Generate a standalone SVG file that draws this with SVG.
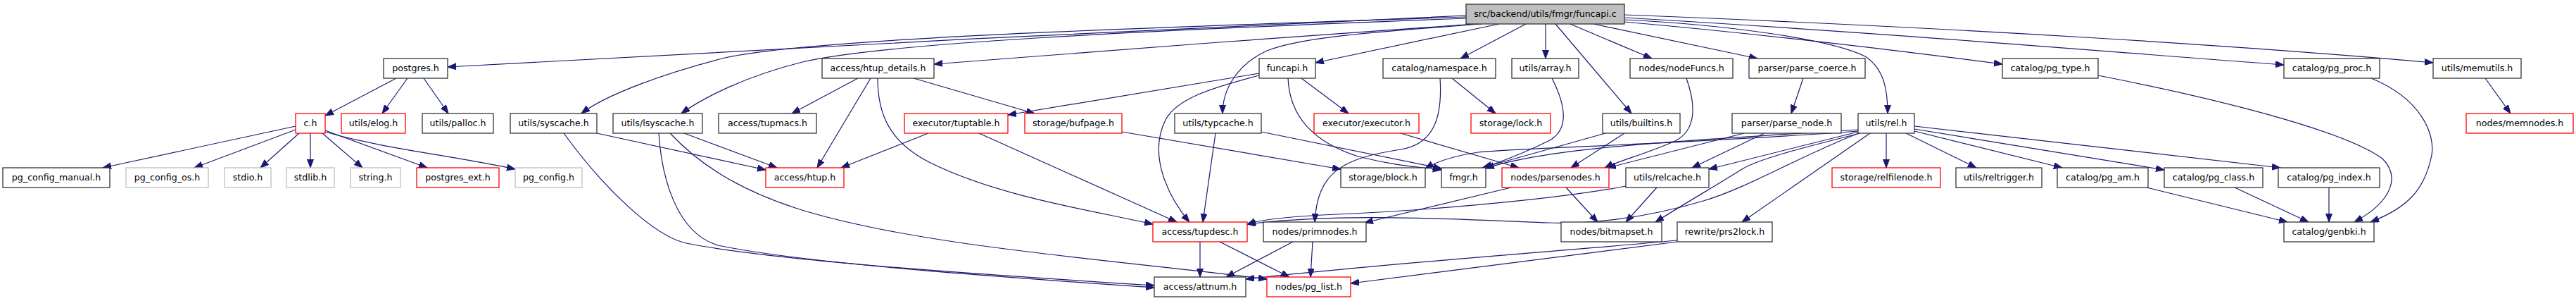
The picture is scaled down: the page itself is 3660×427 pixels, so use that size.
<svg xmlns="http://www.w3.org/2000/svg" width="3660" height="427" viewBox="0 0 3660 427">
<style>
rect{stroke-width:1.3}
.b{fill:#fff;stroke:#333}
.r{fill:#fff;stroke:#f00}
.g{fill:#fff;stroke:#bfbfbf}
.m{fill:#bfbfbf;stroke:#333}
text{font-family:"DejaVu Sans",sans-serif;font-size:12.6px;text-anchor:middle;fill:#000}
#edges path{fill:none;stroke:#191970;stroke-width:1.2;marker-end:url(#a)}
</style>
<defs>
<marker id="a" markerUnits="userSpaceOnUse" markerWidth="13" markerHeight="10" refX="12" refY="4.5" orient="auto"><path d="M0,0L12,4.5L0,9z" fill="#191970" stroke="#191970" stroke-width="1"/></marker>
</defs>
<rect width="3660" height="427" fill="#fff" stroke="none"/>
<g id="edges">
<path d="M2083,22 C1700,38 1000,74 636,95"/>
<path d="M2083,24 C1600,40 1150,55 1030,82 C940,105 860,135 826,161"/>
<path d="M2083,26 C1600,44 1250,62 1140,88 C1060,108 1000,138 968,161"/>
<path d="M2095,34 C1900,48 1500,76 1327,91"/>
<path d="M2105,34 C1950,46 1850,52 1800,72 C1760,90 1737,125 1737,161"/>
<path d="M2130,34 L1869,89"/>
<path d="M2168,34 L2075,83"/>
<path d="M2196,34 L2196,83"/>
<path d="M2210,34 L2318,161"/>
<path d="M2231,34 L2347,83"/>
<path d="M2264,34 L2497,83"/>
<path d="M2308,28 C2450,35 2600,55 2650,80 C2678,98 2682,130 2682,161"/>
<path d="M2308,31 C2500,48 2700,72 2845,91"/>
<path d="M2308,25 C2700,48 3000,74 3245,92"/>
<path d="M2308,21 C2800,40 3200,66 3457,89"/>
<path d="M563,111 L462,164"/>
<path d="M579,111 L543,161"/>
<path d="M602,111 L637,161"/>
<path d="M420,179 L146,238"/>
<path d="M420,184 L276,238"/>
<path d="M425,189 L370,238"/>
<path d="M441,189 L441,238"/>
<path d="M458,189 L515,238"/>
<path d="M462,185 L607,238"/>
<path d="M462,187 C540,210 650,222 732,240"/>
<path d="M1219,111 L1125,161"/>
<path d="M1237,111 L1161,238"/>
<path d="M1298,111 L1470,161"/>
<path d="M1247,111 C1247,160 1262,200 1320,230 C1420,280 1560,300 1638,318"/>
<path d="M1789,104 L1432,163"/>
<path d="M1789,107 C1720,125 1672,140 1656,170 C1630,222 1662,282 1690,315"/>
<path d="M1830,111 C1832,160 1860,200 1930,222 C1985,236 2020,237 2048,241"/>
<path d="M1849,111 L1916,161"/>
<path d="M1319,189 L1195,238"/>
<path d="M1391,189 L1672,315"/>
<path d="M848,189 L1088,241"/>
<path d="M801,189 C860,270 930,335 975,345 C1100,370 1400,390 1640,405"/>
<path d="M972,189 L1104,238"/>
<path d="M936,189 C940,250 960,330 1020,348 C1150,375 1450,395 1640,408"/>
<path d="M952,189 C1000,240 1060,272 1130,295 C1300,350 1600,370 1800,396"/>
<path d="M1594,187 L1905,240"/>
<path d="M1727,189 L1709,315"/>
<path d="M1792,187 L2048,239"/>
<path d="M2063,111 L2125,161"/>
<path d="M2046,111 C2050,170 2035,205 1990,212 C1905,225 1872,245 1868,315"/>
<path d="M1990,189 L2158,238"/>
<path d="M2205,111 C2225,150 2230,185 2200,200 C2160,220 2130,230 2108,238"/>
<path d="M2281,189 L2106,238"/>
<path d="M2308,189 L2232,238"/>
<path d="M2396,111 C2410,150 2410,185 2380,200 C2340,218 2300,228 2280,238"/>
<path d="M2562,111 L2545,161"/>
<path d="M2478,189 L2284,238"/>
<path d="M2507,189 L2404,238"/>
<path d="M2640,187 L2428,240"/>
<path d="M2680,189 L2680,238"/>
<path d="M2708,189 L2808,238"/>
<path d="M2720,186 L2930,238"/>
<path d="M2720,183 L3075,241"/>
<path d="M2720,179 L3240,238"/>
<path d="M2657,189 L2475,315"/>
<path d="M2643,189 C2560,210 2500,225 2475,240 C2440,262 2400,285 2352,315"/>
<path d="M2641,189 C2560,220 2480,268 2420,285 C2330,312 2250,318 2200,316 C2050,310 1900,302 1772,318"/>
<path d="M2640,184 C2420,198 2200,208 2111,239"/>
<path d="M2640,186 C2400,204 2160,210 2100,216 C2060,222 2040,230 2025,239"/>
<path d="M2147,266 L1939,316"/>
<path d="M2225,266 L2270,315"/>
<path d="M2354,266 L2310,315"/>
<path d="M2310,264 C2200,285 2000,300 1900,304 C1830,307 1790,312 1772,318"/>
<path d="M1837,343 L1742,393"/>
<path d="M1865,343 L1862,393"/>
<path d="M1705,343 L1705,393"/>
<path d="M1733,343 L1832,393"/>
<path d="M2383,343 C2200,365 2050,385 1919,402"/>
<path d="M2383,341 C2200,358 1950,375 1770,396"/>
<path d="M2981,107 C3150,140 3330,185 3385,225 C3410,250 3400,285 3345,315"/>
<path d="M3369,111 C3440,140 3460,190 3455,220 C3445,270 3420,295 3368,315"/>
<path d="M3050,266 L3250,315"/>
<path d="M3175,266 L3280,315"/>
<path d="M3309,266 L3309,315"/>
<path d="M3531,111 L3567,161"/>
</g>
<g id="n_main"><rect class="m" x="2083" y="6" width="225" height="28"/><text x="2195.5" y="24">src/backend/utils/fmgr/funcapi.c</text></g>
<g id="n_postgres"><rect class="b" x="545" y="83" width="91" height="28"/><text x="590.5" y="101">postgres.h</text></g>
<g id="n_htup_details"><rect class="b" x="1168" y="83" width="159" height="28"/><text x="1247.5" y="101">access/htup_details.h</text></g>
<g id="n_funcapi_h"><rect class="b" x="1789" y="83" width="80" height="28"/><text x="1829" y="101">funcapi.h</text></g>
<g id="n_namespace"><rect class="b" x="1965" y="83" width="160" height="28"/><text x="2045" y="101">catalog/namespace.h</text></g>
<g id="n_array"><rect class="b" x="2148" y="83" width="95" height="28"/><text x="2195.5" y="101">utils/array.h</text></g>
<g id="n_nodeFuncs"><rect class="b" x="2316" y="83" width="146" height="28"/><text x="2389" y="101">nodes/nodeFuncs.h</text></g>
<g id="n_parse_coerce"><rect class="b" x="2485" y="83" width="165" height="28"/><text x="2567.5" y="101">parser/parse_coerce.h</text></g>
<g id="n_pg_type"><rect class="b" x="2845" y="83" width="136" height="28"/><text x="2913" y="101">catalog/pg_type.h</text></g>
<g id="n_pg_proc"><rect class="b" x="3245" y="83" width="136" height="28"/><text x="3313" y="101">catalog/pg_proc.h</text></g>
<g id="n_memutils"><rect class="b" x="3457" y="83" width="125" height="28"/><text x="3519.5" y="101">utils/memutils.h</text></g>
<g id="n_c"><rect class="r" x="420" y="161" width="42" height="28"/><text x="441" y="179">c.h</text></g>
<g id="n_elog"><rect class="r" x="485" y="161" width="91" height="28"/><text x="530.5" y="179">utils/elog.h</text></g>
<g id="n_palloc"><rect class="b" x="600" y="161" width="101" height="28"/><text x="650.5" y="179">utils/palloc.h</text></g>
<g id="n_syscache"><rect class="b" x="725" y="161" width="123" height="28"/><text x="786.5" y="179">utils/syscache.h</text></g>
<g id="n_lsyscache"><rect class="b" x="871" y="161" width="127" height="28"/><text x="934.5" y="179">utils/lsyscache.h</text></g>
<g id="n_tupmacs"><rect class="b" x="1021" y="161" width="139" height="28"/><text x="1090.5" y="179">access/tupmacs.h</text></g>
<g id="n_tuptable"><rect class="r" x="1285" y="161" width="147" height="28"/><text x="1358.5" y="179">executor/tuptable.h</text></g>
<g id="n_bufpage"><rect class="r" x="1456" y="161" width="138" height="28"/><text x="1525" y="179">storage/bufpage.h</text></g>
<g id="n_typcache"><rect class="b" x="1669" y="161" width="123" height="28"/><text x="1730.5" y="179">utils/typcache.h</text></g>
<g id="n_executor"><rect class="r" x="1867" y="161" width="149" height="28"/><text x="1941.5" y="179">executor/executor.h</text></g>
<g id="n_lock"><rect class="r" x="2090" y="161" width="113" height="28"/><text x="2146.5" y="179">storage/lock.h</text></g>
<g id="n_builtins"><rect class="b" x="2277" y="161" width="110" height="28"/><text x="2332" y="179">utils/builtins.h</text></g>
<g id="n_parse_node"><rect class="b" x="2461" y="161" width="155" height="28"/><text x="2538.5" y="179">parser/parse_node.h</text></g>
<g id="n_rel"><rect class="b" x="2640" y="161" width="80" height="28"/><text x="2680" y="179">utils/rel.h</text></g>
<g id="n_memnodes"><rect class="r" x="3504" y="161" width="152" height="28"/><text x="3580" y="179">nodes/memnodes.h</text></g>
<g id="n_pg_config_manual"><rect class="b" x="4" y="238" width="152" height="28"/><text x="80" y="256">pg_config_manual.h</text></g>
<g id="n_pg_config_os"><rect class="g" x="179" y="238" width="117" height="28"/><text x="237.5" y="256">pg_config_os.h</text></g>
<g id="n_stdio"><rect class="g" x="319" y="238" width="66" height="28"/><text x="352" y="256">stdio.h</text></g>
<g id="n_stdlib"><rect class="g" x="407" y="238" width="68" height="28"/><text x="441" y="256">stdlib.h</text></g>
<g id="n_string"><rect class="g" x="498" y="238" width="71" height="28"/><text x="533.5" y="256">string.h</text></g>
<g id="n_postgres_ext"><rect class="r" x="592" y="238" width="117" height="28"/><text x="650.5" y="256">postgres_ext.h</text></g>
<g id="n_pg_config"><rect class="g" x="732" y="238" width="95" height="28"/><text x="779.5" y="256">pg_config.h</text></g>
<g id="n_htup"><rect class="r" x="1088" y="238" width="111" height="28"/><text x="1143.5" y="256">access/htup.h</text></g>
<g id="n_block"><rect class="b" x="1905" y="238" width="120" height="28"/><text x="1965" y="256">storage/block.h</text></g>
<g id="n_fmgr"><rect class="b" x="2048" y="238" width="63" height="28"/><text x="2079.5" y="256">fmgr.h</text></g>
<g id="n_parsenodes"><rect class="r" x="2134" y="238" width="152" height="28"/><text x="2210" y="256">nodes/parsenodes.h</text></g>
<g id="n_relcache"><rect class="b" x="2310" y="238" width="118" height="28"/><text x="2369" y="256">utils/relcache.h</text></g>
<g id="n_relfilenode"><rect class="r" x="2603" y="238" width="154" height="28"/><text x="2680" y="256">storage/relfilenode.h</text></g>
<g id="n_reltrigger"><rect class="b" x="2779" y="238" width="122" height="28"/><text x="2840" y="256">utils/reltrigger.h</text></g>
<g id="n_pg_am"><rect class="b" x="2923" y="238" width="129" height="28"/><text x="2987.5" y="256">catalog/pg_am.h</text></g>
<g id="n_pg_class"><rect class="b" x="3075" y="238" width="140" height="28"/><text x="3145" y="256">catalog/pg_class.h</text></g>
<g id="n_pg_index"><rect class="b" x="3237" y="238" width="144" height="28"/><text x="3309" y="256">catalog/pg_index.h</text></g>
<g id="n_tupdesc"><rect class="r" x="1638" y="315" width="134" height="28"/><text x="1705" y="333">access/tupdesc.h</text></g>
<g id="n_primnodes"><rect class="b" x="1795" y="315" width="146" height="28"/><text x="1868" y="333">nodes/primnodes.h</text></g>
<g id="n_bitmapset"><rect class="b" x="2218" y="315" width="143" height="28"/><text x="2289.5" y="333">nodes/bitmapset.h</text></g>
<g id="n_prs2lock"><rect class="b" x="2383" y="315" width="135" height="28"/><text x="2450.5" y="333">rewrite/prs2lock.h</text></g>
<g id="n_genbki"><rect class="b" x="3245" y="315" width="128" height="28"/><text x="3309" y="333">catalog/genbki.h</text></g>
<g id="n_attnum"><rect class="b" x="1640" y="393" width="130" height="28"/><text x="1705" y="411">access/attnum.h</text></g>
<g id="n_pg_list"><rect class="r" x="1800" y="393" width="119" height="28"/><text x="1859.5" y="411">nodes/pg_list.h</text></g>
</svg>
